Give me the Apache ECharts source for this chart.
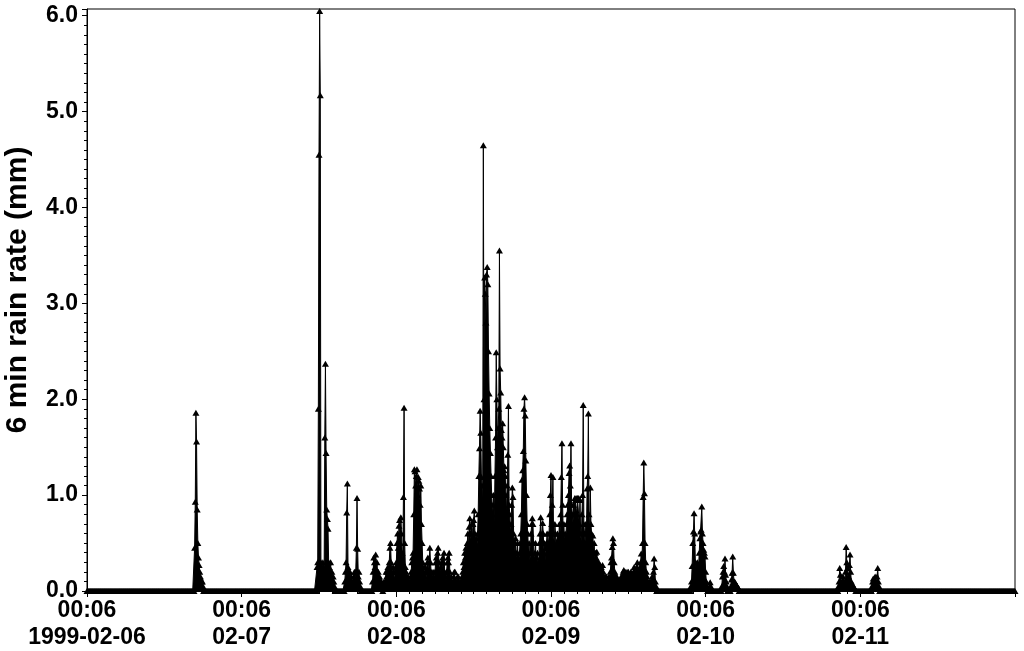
<!DOCTYPE html>
<html><head><meta charset="utf-8">
<script src="https://cdn.jsdelivr.net/npm/echarts@6/dist/echarts.min.js"></script>
<style>html,body{margin:0;padding:0;background:#fff}#c{width:1024px;height:651px}</style>
</head><body><div id="c"></div>
<script>
// ---- data ----
const seriesStart = '1999-02-06T00:06:00Z';
const seriesEnd = '1999-02-12T00:06:00Z';
const stepMinutes = 6;
const xTickLabels = ['00:06\n1999-02-06', '00:06\n02-07', '00:06\n02-08', '00:06\n02-09', '00:06\n02-10', '00:06\n02-11', ''];
const yAxisTitle = '6 min rain rate (mm)';

// rain bursts: start time of first nonzero reading, then consecutive 6-min readings (mm); all other readings are 0
const burstStarts = [
  '1999-02-06T16:48:00Z', '1999-02-07T11:48:00Z', '1999-02-07T16:06:00Z', '1999-02-07T20:24:00Z',
  '1999-02-08T10:30:00Z', '1999-02-09T21:48:00Z', '1999-02-10T02:36:00Z', '1999-02-10T04:00:00Z',
  '1999-02-10T20:42:00Z', '1999-02-11T01:54:00Z'
];
const burstA = [0.45, 0.93, 1.86, 1.56, 0.85, 0.5, 0.35, 0.27, 0.2, 0.15, 0.12, 0.1, 0.1, 0.05];
const burstB = [0.25, 0.3, 1.9, 4.55, 6.05, 5.17, 0.3, 0.25, 0.2, 0.3, 0.25, 0.2, 1.6, 2.37, 1.44, 0.85, 0.75, 0.65, 0.3, 0.25, 0.2, 0.3, 0.15, 0.2, 0.1, 0.15, 0.1, 0.05];
const burstC = [0.1, 0.2, 0.3, 0.82, 1.12, 0.25, 0.2, 0.15, 0.2, 0.1, 0.15, 0.1, 0.05, 0.1, 0.15, 0.2, 0.1, 0.2, 0.45, 0.97, 0.44, 0.15, 0.2, 0.1, 0.05];
const burstD = [
  0.1, 0.2, 0.35, 0.3, 0.25, 0.38, 0.2, 0.3, 0.15, 0.2,
  0.1, 0.15, 0.1, 0.05, 0.1, 0.05, 0, 0.05, 0.1, 0.05,
  0.1, 0.2, 0.15, 0.2, 0.25, 0.2, 0.3, 0.45, 0.5, 0.3,
  0.2, 0.15, 0.25, 0.2, 0.1, 0.2, 0.25, 0.3, 0.5, 0.6,
  0.45, 0.68, 0.74, 0.5, 0.77, 0.6, 0.4, 0.3, 0.98, 1.91,
  0.5, 0.25, 0.2, 0.15, 0.1, 0.15, 0.1, 0.05, 0.1, 0.15,
  0.2, 0.3, 0.35, 0.4, 0.8, 1.27, 1.25, 1.1, 1.2, 1.27,
  1.0, 1.19, 1.15, 1.07, 0.9, 1.1, 0.7, 0.5, 0.3, 0.2,
  0.25, 0.15, 0.25, 0.1, 0.2, 0.3, 0.35, 0.2, 0.3, 0.45,
  0.3, 0.2, 0.15, 0.1, 0.2, 0.15, 0.1, 0.2, 0.3, 0.35,
  0.3, 0.4, 0.45, 0.3, 0.2, 0.15, 0.25, 0.3, 0.2, 0.35,
  0.3, 0.4, 0.2, 0.15, 0.1, 0.2, 0.3, 0.35, 0.3, 0.4,
  0.2, 0.1, 0.15, 0.1, 0.05, 0.1, 0.15, 0.2, 0.2, 0.1,
  0.05, 0.1, 0.15, 0.15, 0.1, 0.05, 0.1, 0.05, 0.1, 0.15,
  0.2
];
const burstE = [
  0.3, 0.25, 0.4, 0.35, 0.45, 0.4, 0.5, 0.6, 0.45, 0.67,
  0.76, 0.6, 0.5, 0.7, 0.55, 0.7, 0.74, 0.84, 0.6, 0.5,
  0.55, 0.45, 0.6, 0.8, 1.2, 1.49, 1.88, 1.65, 1.19, 1.1,
  0.9, 4.65, 2.0, 3.27, 3.1, 2.8, 3.3, 3.38, 3.2, 2.5,
  2.06, 1.7, 1.44, 1.2, 1.0, 0.8, 0.9, 1.0, 0.7, 1.2,
  1.6, 2.49, 2.0, 1.5, 1.7, 1.9, 3.55, 2.32, 2.07, 1.68,
  1.6, 1.75, 1.5, 1.26, 1.3, 1.2, 1.0, 0.8, 1.1, 1.42,
  1.93, 0.9, 0.8, 0.6, 0.7, 0.9, 1.08, 0.98, 0.6, 0.5,
  0.4, 0.55, 0.3, 0.4, 0.5, 0.35, 0.3, 0.4, 0.5, 0.6,
  0.8, 1.16, 1.26, 1.46, 1.9, 2.02, 1.83, 1.36, 1.0, 0.7,
  0.6, 0.4, 0.5, 0.3, 0.4, 0.6, 0.7, 0.76, 0.7, 0.5,
  0.3, 0.4, 0.5, 0.3, 0.35, 0.4,
  0.25, 0.3, 0.5, 0.6, 0.77, 0.5, 0.6, 0.71, 0.6, 0.4,
  0.5, 0.3, 0.45, 0.5, 0.6, 0.45, 0.5, 0.6, 0.8, 1.0,
  1.21, 0.7, 0.9, 1.19, 0.6, 0.5, 0.7, 0.6, 0.45, 0.5,
  0.6, 0.5, 0.55, 0.7, 0.6, 0.8, 1.19, 1.54, 0.9, 0.6,
  0.7, 0.5, 0.6, 0.55, 0.7, 0.8, 0.9, 1.0, 1.23, 1.31,
  1.1, 1.54, 0.9, 0.8, 0.7, 0.9, 0.8, 0.97, 0.95, 0.97,
  0.8, 0.97, 0.95, 0.97, 0.7, 0.95, 0.6, 0.5, 0.8, 1.0,
  1.94, 0.7, 0.6, 0.5, 0.7, 0.6, 1.07, 1.2, 1.85, 0.8,
  0.6, 1.08, 0.7, 0.6, 0.5, 0.58, 0.4, 0.5, 0.3, 0.4,
  0.35, 0.41, 0.3, 0.25, 0.3, 0.2, 0.27, 0.2, 0.25, 0.15,
  0.27, 0.2, 0.15, 0.1, 0.15, 0.1, 0.15, 0.1, 0.05, 0.1,
  0.15, 0.1, 0.2, 0.3, 0.35, 0.46, 0.55, 0.5, 0.3, 0.2,
  0.15, 0.1, 0.15, 0.1, 0.05, 0.1, 0.11, 0.05, 0.1, 0.15,
  0.1, 0.15, 0.2, 0.22, 0.15, 0.2, 0.1, 0.15, 0.2, 0.18,
  0.2, 0.15, 0.1, 0.15, 0.2, 0.15, 0.1, 0.15, 0.2, 0.25,
  0.2, 0.15, 0.2, 0.25, 0.3, 0.2, 0.15, 0.2, 0.25, 0.3,
  0.39, 0.3, 0.5, 0.98, 1.34, 1.02, 0.5, 0.3, 0.2, 0.15,
  0.1, 0.05, 0.1, 0.05, 0.1, 0.05, 0.1, 0.15, 0.1, 0.2,
  0.34, 0.25, 0.1, 0.05
];
const burstF = [0.05, 0.1, 0.26, 0.5, 0.62, 0.81, 0.6, 0.3, 0.2, 0.25, 0.3, 0.2, 0.25, 0.4, 0.55, 0.62, 0.64, 0.88, 0.6, 0.5, 0.43, 0.4, 0.36, 0.2, 0.1, 0.05, 0, 0, 0, 0.05, 0.09, 0.05];
const burstG = [0.05, 0.15, 0.2, 0.26, 0.2, 0.34, 0.17, 0.1, 0.05];
const burstH = [0.05, 0.12, 0.19, 0.36, 0.19, 0.1, 0.1, 0.08, 0.07, 0.06, 0.05, 0.04, 0.03];
const burstI = [0.05, 0.1, 0.24, 0.17, 0.1, 0.05, 0.1, 0.15, 0.1, 0.05, 0.1, 0.2, 0.46, 0.3, 0.24, 0.1, 0.15, 0.27, 0.38, 0.2, 0.1, 0.08, 0.06, 0.05, 0.04, 0.03, 0.02];
const burstJ = [0.05, 0.1, 0.13, 0.1, 0.12, 0.15, 0.1, 0.05, 0.15, 0.24, 0.1, 0.05];
const burstValues = [burstA, burstB, burstC, burstD, burstE, burstF, burstG, burstH, burstI, burstJ];

// ---- build series from the arrays ----
const t0 = Date.parse(seriesStart);
const stepMs = stepMinutes * 60000;
const nSteps = Math.round((Date.parse(seriesEnd) - t0) / stepMs);
const rain = new Array(nSteps + 1).fill(0);
burstStarts.forEach(function (s, b) {
  const k = Math.round((Date.parse(s) - t0) / stepMs);
  burstValues[b].forEach(function (v, j) { rain[k + j] = v; });
});
const data = rain.map(function (v, i) { return [i * stepMinutes / 60, v]; });
const totalHours = nSteps * stepMinutes / 60;

const FONT = "'Liberation Sans', Arial, sans-serif";
const chart = echarts.init(document.getElementById('c'), null, { renderer: 'canvas' });
chart.setOption({
  animation: false,
  backgroundColor: '#fff',
  grid: { left: 87, right: 9, top: 9, bottom: 60, show: true, borderColor: '#000', borderWidth: 1, backgroundColor: 'transparent' },
  xAxis: {
    type: 'value', min: 0, max: totalHours, interval: 24,
    axisLine: { lineStyle: { color: '#000', width: 1 } },
    axisTick: { length: 6, lineStyle: { color: '#000' } },
    minorTick: { show: true, splitNumber: 12, length: 3, lineStyle: { color: '#000' } },
    splitLine: { show: false },
    axisLabel: {
      color: '#000', fontFamily: FONT, fontWeight: 'bold', fontSize: 23, lineHeight: 27, margin: 6,
      formatter: function (v) { return xTickLabels[Math.round(v / 24)] || ''; }
    }
  },
  yAxis: {
    type: 'value', min: 0, max: 6.07, interval: 1,
    axisLine: { show: true, lineStyle: { color: '#000', width: 1 } },
    axisTick: { show: true, length: 5, lineStyle: { color: '#000' } },
    minorTick: { show: true, splitNumber: 10, length: 3, lineStyle: { color: '#000' } },
    splitLine: { show: false },
    axisLabel: {
      color: '#000', fontFamily: FONT, fontWeight: 'bold', fontSize: 23, margin: 9,
      showMaxLabel: false,
      formatter: function (v) { return Math.abs(v - Math.round(v)) < 1e-6 ? v.toFixed(1) : ''; }
    }
  },
  graphic: [{
    type: 'text', x: 18, y: 290, rotation: Math.PI / 2,
    style: { text: yAxisTitle, fill: '#000', font: 'bold 30px ' + FONT, align: 'center', verticalAlign: 'middle' }
  }],
  series: [{
    type: 'line', data: data, clip: false, showAllSymbol: true,
    symbol: 'triangle', symbolSize: [7, 6],
    itemStyle: { color: '#000' },
    lineStyle: { color: '#000', width: 1 },
    areaStyle: { color: '#000', opacity: 1 },
    emphasis: { disabled: true }
  }]
});
</script></body></html>
